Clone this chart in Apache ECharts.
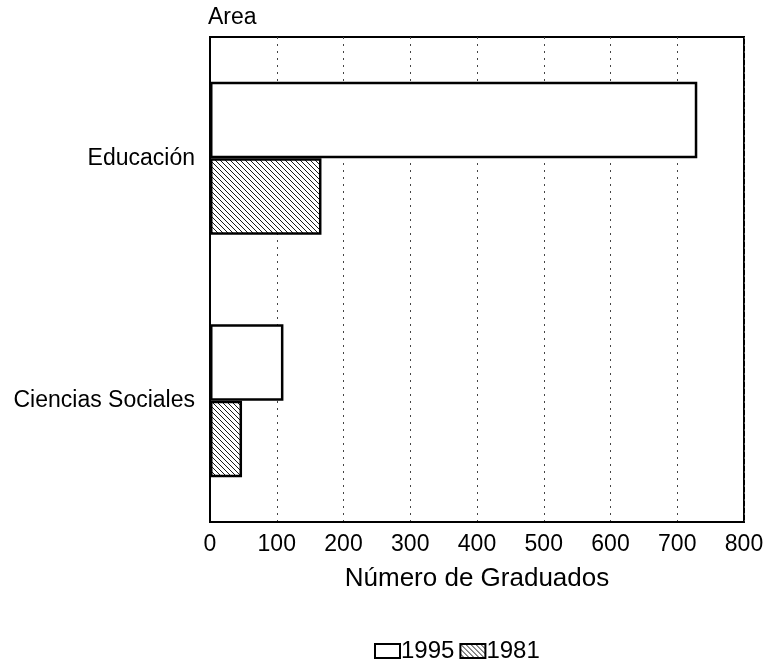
<!DOCTYPE html>
<html>
<head>
<meta charset="utf-8">
<script src="https://cdn.jsdelivr.net/npm/echarts@6/dist/echarts.min.js"></script>
<style>html,body{margin:0;padding:0;background:#fff}#c{width:771px;height:670px}</style>
</head>
<body>
<div id="c"></div>
<script>
var categories = ['Educación', 'Ciencias Sociales'];
var seriesNames = ['1995', '1981'];
var values1995 = [730, 110];
var values1981 = [167, 48];
var xTicks = [0, 100, 200, 300, 400, 500, 600, 700, 800];

function hatch() {
  var c = document.createElement('canvas');
  c.width = 5; c.height = 5;
  var g = c.getContext('2d');
  g.fillStyle = '#fff'; g.fillRect(0, 0, 5, 5);
  g.strokeStyle = '#000'; g.lineWidth = 0.9;
  g.beginPath();
  g.moveTo(-1, -1); g.lineTo(6, 6);
  g.moveTo(-1, 4); g.lineTo(1, 6);
  g.moveTo(4, -1); g.lineTo(6, 1);
  g.stroke();
  return c;
}
var font = 'Arial, "Liberation Sans", sans-serif';
var chart = echarts.init(document.getElementById('c'));
chart.setOption({
  animation: false,
  textStyle: { fontFamily: font, color: '#000' },
  title: { text: 'Area', left: 203, top: 1, textStyle: { fontFamily: font, fontSize: 23, fontWeight: 'normal', color: '#000' } },
  grid: { left: 210, right: 27, top: 37, bottom: 148, show: true, borderColor: '#000', borderWidth: 2, backgroundColor: 'transparent' },
  legend: {
    bottom: 2, left: 369, itemWidth: 25, itemHeight: 14, itemGap: 5, icon: 'rect',
    textStyle: { fontFamily: font, fontSize: 24, color: '#000', padding: [0, 0, 0, -4] },
    data: seriesNames
  },
  xAxis: {
    type: 'value', min: xTicks[0], max: xTicks[xTicks.length - 1], interval: 100,
    name: 'Número de Graduados', nameLocation: 'middle', nameGap: 44,
    nameTextStyle: { fontFamily: font, fontSize: 26, color: '#000' },
    axisLine: { show: true, lineStyle: { color: '#000', width: 2 } },
    axisTick: { show: false },
    axisLabel: { fontFamily: font, fontSize: 23, color: '#000', margin: 11 },
    splitLine: { show: true, lineStyle: { color: '#444', type: [2, 5], width: 1 } }
  },
  yAxis: {
    type: 'category', inverse: true, data: categories,
    axisLine: { show: true, lineStyle: { color: '#000', width: 2 } },
    axisTick: { show: false },
    axisLabel: { fontFamily: font, fontSize: 23, color: '#000', margin: 15 }
  },
  series: [
    { name: seriesNames[0], type: 'bar', data: values1995, barGap: '0%', barCategoryGap: '37%',
      itemStyle: { color: '#fff', borderColor: '#000', borderWidth: 2.5 } },
    { name: seriesNames[1], type: 'bar', data: values1981, barGap: '0%', barCategoryGap: '37%',
      itemStyle: { color: { image: hatch(), repeat: 'repeat' }, borderColor: '#000', borderWidth: 2.5 } }
  ]
});
</script>
</body>
</html>
